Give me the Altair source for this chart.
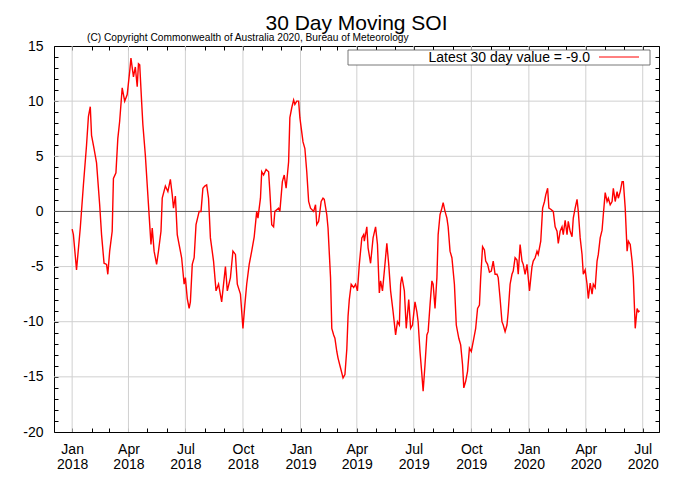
import altair as alt
import pandas as pd

# ---------------- data ----------------
start = "2018-01-01"
days = [0, 2, 7, 13, 18, 23, 26, 29, 31, 35, 39, 44, 47, 51, 55, 57, 60, 64, 66, 70,
        73, 76, 80, 84, 88, 92, 94, 98, 101, 104, 106, 108, 111, 113, 117, 120, 124, 126, 128, 131,
        135, 138, 142, 144, 149, 153, 157, 160, 162, 165, 168, 171, 175, 179, 181, 184, 187, 189, 192, 195,
        198, 203, 206, 209, 212, 215, 218, 221, 226, 230, 234, 239, 245, 248, 253, 257, 261, 264, 269, 273,
        276, 279, 283, 287, 291, 295, 297, 301, 303, 306, 310, 314, 316, 319, 322, 324, 330, 332, 336, 339,
        342, 346, 348, 351, 354, 356, 359, 362, 364, 369, 372, 375, 378, 381, 386, 389, 391, 394, 398, 401,
        403, 407, 409, 413, 415, 418, 420, 423, 425, 429, 433, 436, 439, 441, 443, 446, 450, 453, 456, 459,
        463, 466, 467, 471, 473, 477, 481, 485, 488, 491, 493, 496, 499, 503, 506, 509, 513, 517, 520, 523,
        525, 527, 531, 534, 538, 541, 544, 548, 551, 553, 556, 559, 561, 564, 567, 569, 572, 575, 577, 580,
        583, 585, 588, 591, 593, 596, 599, 601, 604, 607, 611, 614, 618, 621, 624, 626, 629, 632, 635, 638,
        642, 645, 648, 651, 653, 656, 659, 661, 664, 667, 670, 673, 676, 679, 681, 684, 687, 689, 692, 695,
        697, 700, 703, 705, 708, 711, 713, 716, 719, 721, 724, 727, 729, 731, 735, 737, 740, 743, 745, 749,
        752, 755, 757, 760, 762, 765, 769, 772, 775, 777, 780, 783, 785, 788, 791, 793, 796, 799, 801, 804,
        807, 809, 812, 815, 817, 820, 823, 825, 828, 831, 833, 836, 839, 841, 844, 847, 849, 852, 855, 857,
        860, 863, 865, 868, 871, 873, 876, 879, 881, 884, 887, 889, 892, 895, 897, 900, 903, 905, 907]
soi = [-1.6, -2.1, -5.3, -1.5, 2.4, 6.0, 8.6, 9.5, 6.9, 5.7, 4.4, 0.6, -2.1, -4.7, -4.8, -5.7, -3.6, -1.8, 3.0, 3.5,
       6.6, 8.2, 11.2, 10.0, 10.6, 12.7, 13.9, 12.2, 13.1, 11.3, 13.4, 13.3, 10.0, 7.9, 5.1, 2.4, -1.2, -3.0, -1.5, -3.6,
       -4.8, -3.6, -1.8, 1.2, 2.3, 1.8, 2.9, 1.5, 0.3, 1.4, -2.1, -3.0, -4.2, -6.6, -6.0, -7.9, -8.8, -8.2, -4.8, -4.2,
       -1.2, 0.0, 0.0, 2.1, 2.3, 2.4, 1.2, -2.4, -4.5, -7.2, -6.6, -8.2, -5.0, -7.2, -6.0, -3.6, -3.9, -6.6, -7.5, -10.6,
       -8.5, -6.6, -4.8, -3.6, -2.3, 0.0, -0.6, 1.2, 3.6, 3.3, 3.8, 3.6, 1.8, -1.2, -1.4, 0.0, 0.3, 0.0, 2.7, 3.3,
       2.1, 4.5, 8.5, 9.4, 10.1, 9.7, 10.0, 10.0, 8.5, 6.3, 5.7, 3.6, 0.9, 0.3, 0.0, 0.6, -1.2, -0.9, 0.9, 1.2,
       1.1, -0.3, -1.5, -6.0, -10.6, -11.2, -11.5, -12.7, -13.3, -14.2, -15.1, -14.8, -12.5, -9.5, -8.0, -6.6, -6.9, -6.6, -7.2, -4.8,
       -2.4, -2.1, -2.7, -1.4, -3.3, -4.7, -2.4, -1.4, -3.0, -7.4, -6.3, -7.2, -5.4, -2.9, -4.8, -7.2, -9.1, -11.2, -10.0, -10.3,
       -6.6, -5.9, -7.2, -10.6, -8.0, -10.6, -10.3, -8.2, -9.1, -10.0, -12.7, -14.8, -16.3, -13.9, -11.2, -10.9, -8.5, -6.3, -6.6, -8.8,
       -6.0, -2.1, -0.3, 0.3, 0.8, 0.0, -0.6, -1.4, -3.6, -4.2, -6.6, -10.3, -11.5, -12.1, -13.9, -16.0, -15.4, -14.5, -12.4, -12.7,
       -11.5, -10.6, -8.8, -8.5, -6.0, -3.2, -3.5, -4.5, -4.8, -5.5, -5.4, -4.5, -5.7, -5.7, -6.0, -7.9, -10.0, -10.3, -10.9, -10.3,
       -9.1, -6.6, -5.7, -5.4, -4.2, -4.4, -5.7, -3.0, -4.5, -4.8, -5.7, -4.8, -6.0, -7.2, -5.0, -4.5, -4.2, -3.6, -3.9, -2.7,
       0.3, 0.9, 1.5, 2.1, 0.3, 0.2, 0.0, -1.4, -1.8, -2.9, -1.8, -1.4, -2.1, -0.8, -2.1, -0.9, -1.8, -2.3, -0.6, 0.3,
       1.1, 0.0, -2.4, -3.9, -5.7, -5.3, -6.6, -7.9, -6.5, -7.5, -6.6, -6.9, -4.5, -3.9, -2.4, -1.7, -0.3, 1.7, 0.9, 1.2,
       0.6, 0.9, 2.1, 0.9, 1.8, 1.2, 1.8, 2.7, 2.7, 0.3, -3.6, -2.7, -3.0, -4.5, -6.0, -10.6, -8.8, -9.1, -9.0]

quarter_dates = ["2018-01-01", "2018-04-01", "2018-07-01", "2018-10-01",
                 "2019-01-01", "2019-04-01", "2019-07-01", "2019-10-01",
                 "2020-01-01", "2020-04-01", "2020-07-01"]
y_grid_levels = [-15, -10, -5, 0, 5, 10]
y_tick_values = list(range(-20, 16))
x_domain = ["2017-12-03", "2020-07-27"]
y_domain = [-20, 15]

title_text = "30 Day Moving SOI"
copyright_text = "(C) Copyright Commonwealth of Australia 2020, Bureau of Meteorology"
legend_text = f"Latest 30 day value = {soi[-1]:.1f}"

FONT = "Liberation Sans"


def ms(s):
    return int(pd.Timestamp(s, tz="UTC").timestamp() * 1000)


month_ms = [ms(d) for d in pd.date_range("2018-01-01", "2020-07-01", freq="MS").strftime("%Y-%m-%d")]

dates = (pd.Timestamp(start) + pd.to_timedelta(days, unit="D")).strftime("%Y-%m-%d")
df = pd.DataFrame({"date": dates, "soi": soi})
qdf = pd.DataFrame({"date": quarter_dates})
hdf = pd.DataFrame({"v": y_grid_levels})

xscale = alt.Scale(type="utc", domain=[ms(x_domain[0]), ms(x_domain[1])], nice=False)
yscale = alt.Scale(domain=y_domain, nice=False, zero=False)

common_axis = dict(title=None, grid=False, domain=False, ticks=True, tickSize=4, offset=-4,
                   tickColor="black", tickWidth=1, labelFont=FONT, labelFontSize=14,
                   labelColor="black", labelOverlap=False, labelFlush=False)

bottom_axis = alt.Axis(orient="bottom", values=month_ms,
                       labelExpr="utcmonth(datum.value) % 3 == 0 ? [utcFormat(datum.value, '%b'), utcFormat(datum.value, '%Y')] : ''",
                       labelPadding=10, labelBaseline="top", labelLineHeight=15, **common_axis)
top_axis = alt.Axis(orient="top", values=month_ms, labels=False, **common_axis)
left_axis = alt.Axis(orient="left", values=y_tick_values,
                     labelExpr="datum.value % 5 == 0 ? '' + datum.value : ''",
                     labelPadding=11, **common_axis)
right_axis = alt.Axis(orient="right", values=y_tick_values, labels=False, **common_axis)

vgrid = alt.Chart(qdf).mark_rule(color="#d0d0d0", strokeWidth=1).encode(
    x=alt.X("date:T", scale=xscale, axis=top_axis)
)
hgrid = alt.Chart(hdf).mark_rule(strokeWidth=1).encode(
    y=alt.Y("v:Q", scale=yscale, axis=right_axis),
    color=alt.condition("datum.v == 0", alt.value("#5a5a5a"), alt.value("#d0d0d0")),
)
line = alt.Chart(df).mark_line(color="#ff0000", strokeWidth=1.4).encode(
    x=alt.X("date:T", scale=xscale, axis=bottom_axis),
    y=alt.Y("soi:Q", scale=yscale, axis=left_axis),
)

tdf = pd.DataFrame({"t": [title_text]})
cdf = pd.DataFrame({"t": [copyright_text]})
ldf = pd.DataFrame({"t": [legend_text]})

title_mark = alt.Chart(tdf).mark_text(font=FONT, fontSize=21, align="center", baseline="alphabetic",
                                      color="black").encode(
    text="t:N", x=alt.value(302.5), y=alt.value(-16))
copy_mark = alt.Chart(cdf).mark_text(font=FONT, fontSize=10.2, align="left", baseline="alphabetic",
                                     color="black").encode(
    text="t:N", x=alt.value(33), y=alt.value(-5))
key_box = alt.Chart(ldf).mark_rect(fill="white", stroke="#555555", strokeWidth=0.8).encode(
    x=alt.value(294), x2=alt.value(596), y=alt.value(4), y2=alt.value(19))
key_text = alt.Chart(ldf).mark_text(font=FONT, fontSize=14, align="right", baseline="alphabetic",
                                    color="black").encode(
    text="t:N", x=alt.value(536), y=alt.value(16))
key_line = alt.Chart(ldf).mark_rule(color="#ff0000", strokeWidth=1).encode(
    x=alt.value(545), x2=alt.value(585), y=alt.value(11))

chart = alt.layer(
    vgrid, hgrid, line, key_box, key_text, key_line, title_mark, copy_mark
).resolve_axis(
    x="independent", y="independent"
).properties(
    width=605, height=386,
    padding={"left": 46, "top": 38, "right": 10, "bottom": 46},
    autosize=alt.AutoSizeParams(type="none"),
    background="white",
).configure_view(
    stroke="black", strokeWidth=1
)

chart.save("out.html", embed_options={"renderer": "svg", "actions": False})
